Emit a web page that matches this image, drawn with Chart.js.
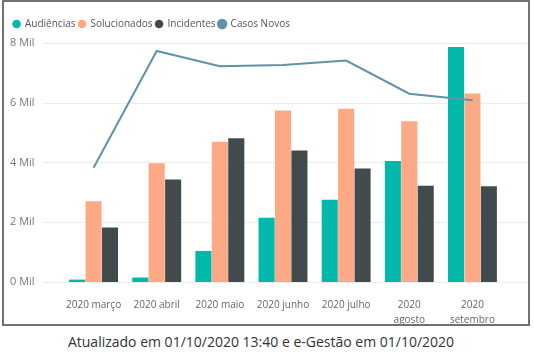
<!DOCTYPE html>
<html>
<head>
<meta charset="utf-8">
<script src="https://cdn.jsdelivr.net/npm/chart.js@4"></script>
<style>
  body { margin: 0; background: #fff; font-family: "Open Sans", sans-serif; }
  #box { position: absolute; left: 2px; top: 0px; width: 524px; height: 322px; border: 2px solid #707070; }
  #caption { position: absolute; left: 0; width: 522px; top: 332px; text-align: center; font-size: 14px; color: #333; }
</style>
</head>
<body>
<div id="box"><canvas id="chart" width="524" height="322"></canvas></div>
<div id="caption">Atualizado em 01/10/2020 13:40 e e-Gestão em 01/10/2020</div>
<script>
const categories = ['2020 março', '2020 abril', '2020 maio', '2020 junho', '2020 julho', ['2020', 'agosto'], ['2020', 'setembro']];
const audiencias = [80, 150, 1040, 2150, 2750, 4050, 7860];
const solucionados = [2700, 3970, 4690, 5740, 5800, 5380, 6310];
const incidentes = [1820, 3430, 4810, 4400, 3800, 3220, 3200];
const casosNovos = [3820, 7730, 7220, 7260, 7410, 6300, 6080];
const yTicks = [0, 2000, 4000, 6000, 8000];

// horizontal grid lines run wider than the bar area
const wideGrid = {
    id: 'wideGrid',
    beforeDatasetsDraw(chart) {
        const y = chart.scales.y;
        const c = chart.ctx;
        c.save();
        c.strokeStyle = '#ececec';
        c.lineWidth = 1;
        yTicks.forEach(v => {
            const py = Math.round(y.getPixelForValue(v)) + 0.5;
            c.beginPath();
            c.moveTo(39, py);
            c.lineTo(523, py);
            c.stroke();
        });
        c.restore();
    }
};

const barStyle = { borderWidth: 0, categoryPercentage: 0.78, barPercentage: 0.98, order: 1 };

new Chart(document.getElementById('chart'), {
    type: 'bar',
    data: {
        labels: categories,
        datasets: [
            { label: 'Audiências', data: audiencias, backgroundColor: '#01B8AA', ...barStyle },
            { label: 'Solucionados', data: solucionados, backgroundColor: '#FDA985', ...barStyle },
            { label: 'Incidentes', data: incidentes, backgroundColor: '#414A4C', ...barStyle },
            { type: 'line', label: 'Casos Novos', data: casosNovos, borderColor: '#5E93A9', backgroundColor: '#5E93A9',
              borderWidth: 2, pointRadius: 0, tension: 0, order: 0 }
        ]
    },
    options: {
        responsive: false,
        animation: false,
        layout: { padding: { left: 6, right: 24, top: 14, bottom: 0 } },
        plugins: {
            legend: {
                align: 'start',
                labels: {
                    usePointStyle: true,
                    pointStyle: 'circle',
                    boxWidth: 7,
                    boxHeight: 6,
                    padding: 3,
                    color: '#555',
                    font: { family: 'Open Sans', size: 10 },
                    sort: (a, b) => a.datasetIndex - b.datasetIndex
                }
            },
            tooltip: { enabled: false }
        },
        scales: {
            y: {
                min: 0,
                max: 8130,
                afterBuildTicks: s => { s.ticks = yTicks.map(v => ({ value: v })); },
                afterFit: s => { s.width = 52; },
                border: { display: false },
                grid: { display: false },
                ticks: {
                    crossAlign: 'far',
                    color: '#777',
                    font: { family: 'Open Sans', size: 11 },
                    callback: v => (v / 1000) + ' Mil'
                }
            },
            x: {
                afterFit: s => { s.height = 42; },
                border: { display: false },
                grid: { display: false },
                ticks: {
                    color: '#666',
                    maxRotation: 0,
                    autoSkip: false,
                    padding: 8,
                    font: { family: 'Open Sans', size: 10, lineHeight: 1.5 }
                }
            }
        }
    },
    plugins: [wideGrid]
});
</script>
</body>
</html>
